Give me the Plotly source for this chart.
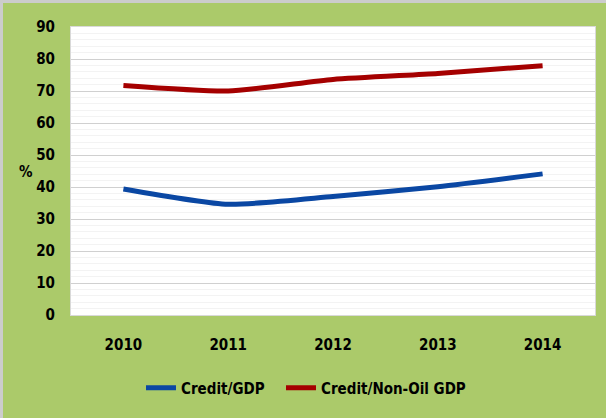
import plotly.graph_objects as go

years = ["2010", "2011", "2012", "2013", "2014"]
credit_gdp = [39.4, 34.6, 37.0, 40.1, 44.1]
credit_nonoil_gdp = [71.7, 70.0, 73.6, 75.5, 77.9]
y_ticks = [0, 10, 20, 30, 40, 50, 60, 70, 80, 90]

GREEN = "#abca6a"
FONT = "DejaVu Sans Condensed, sans-serif"

L, R, T, B = 71, 11, 27, 103
W, H = 606, 418
pw, ph = W - L - R, H - T - B

fig = go.Figure()
fig.add_trace(go.Scatter(x=years, y=credit_gdp, name="Credit/GDP", mode="lines", legend="legend",
                         line=dict(color="#0a47a3", width=5, shape="spline", smoothing=0.6)))
fig.add_trace(go.Scatter(x=years, y=credit_nonoil_gdp, name="Credit/Non-Oil GDP", mode="lines",
                         legend="legend2",
                         line=dict(color="#a50000", width=5, shape="spline", smoothing=0.6)))

leg_common = dict(orientation="h", xanchor="left", y=-(388 - 315) / ph, yanchor="middle",
                  bgcolor="rgba(0,0,0,0)", font=dict(size=15), itemwidth=30)

fig.update_layout(
    width=W, height=H,
    margin=dict(l=L, r=R, t=T, b=B),
    paper_bgcolor=GREEN, plot_bgcolor="white",
    font=dict(family=FONT, size=15, color="black", weight="bold"),
    showlegend=True,
    legend=dict(x=(141 - L) / pw, **leg_common),
    legend2=dict(x=(281 - L) / pw, **leg_common),
    xaxis=dict(type="category", range=[-0.5, 4.5], showgrid=False, showline=True, mirror=True,
               linecolor="#d9d9d9", linewidth=1, ticks="", ticklabelstandoff=16, zeroline=False),
    yaxis=dict(range=[0, 90], tickvals=y_ticks, showgrid=True, gridcolor="#d0d0d0", gridwidth=1,
               minor=dict(dtick=2, showgrid=True, gridcolor="#f3f3f3", gridwidth=1),
               showline=True, mirror=True, linecolor="#d9d9d9", linewidth=1, ticks="",
               ticklabelstandoff=12, zeroline=False),
)

fig.add_annotation(text="%", xref="paper", yref="paper", x=(26 - L) / pw, y=(315 - 172) / ph,
                   showarrow=False, font=dict(size=15), xanchor="center", yanchor="middle")

# outer gray border (top and left)
fig.add_shape(type="rect", xref="paper", yref="paper", x0=-L / pw, x1=(W - L) / pw,
              y0=(315 - 3) / ph, y1=315 / ph, fillcolor="#cccccc", line=dict(width=0), layer="above")
fig.add_shape(type="rect", xref="paper", yref="paper", x0=-L / pw, x1=(3 - L) / pw,
              y0=-(H - 315) / ph, y1=315 / ph, fillcolor="#cccccc", line=dict(width=0), layer="above")

fig.write_html("out.html", config={"displayModeBar": False},
               post_script="document.body.style.margin='0';")
